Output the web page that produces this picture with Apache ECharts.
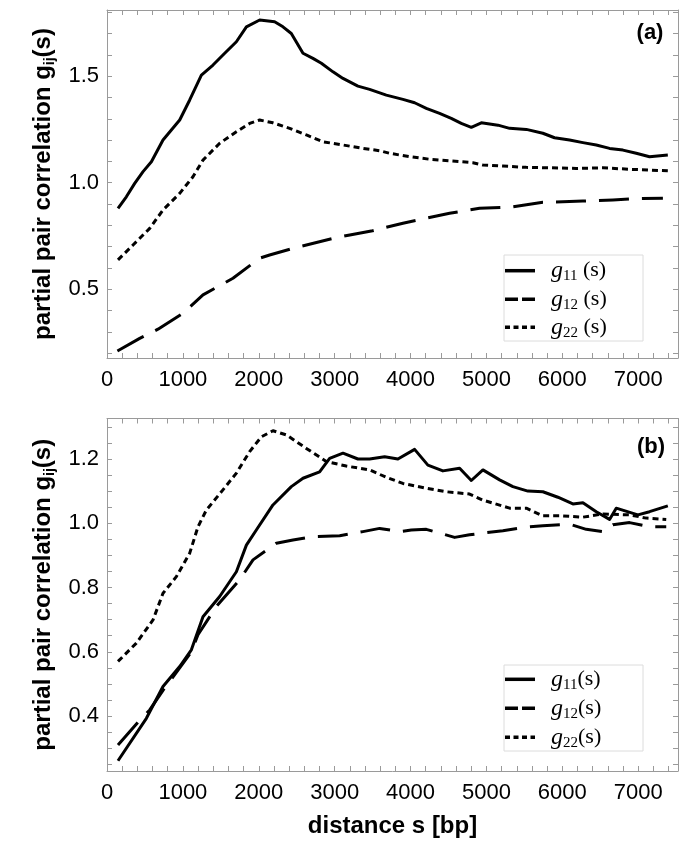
<!DOCTYPE html>
<html><head><meta charset="utf-8">
<script src="https://cdn.jsdelivr.net/npm/echarts@6/dist/echarts.min.js"></script>
<style>html,body{margin:0;padding:0;background:#fff}#c{width:685px;height:845px}</style>
</head><body><div id="c"></div>
<script>
// ---- data (distance s [bp], g) ----
const topG11 = [[145,0.88],[255,0.934],[365,0.997],[475,1.052],[585,1.098],[738,1.20],[848,1.247],[958,1.294],[1090,1.388],[1244,1.505],[1397,1.552],[1528,1.599],[1705,1.661],[1837,1.731],[2012,1.763],[2209,1.755],[2319,1.731],[2429,1.70],[2583,1.607],[2714,1.583],[2825,1.56],[2978,1.52],[3110,1.489],[3307,1.453],[3461,1.438],[3681,1.411],[3900,1.391],[4054,1.375],[4208,1.349],[4383,1.325],[4537,1.302],[4669,1.278],[4801,1.26],[4933,1.281],[5152,1.27],[5306,1.255],[5526,1.25],[5744,1.232],[5898,1.211],[6096,1.20],[6272,1.188],[6448,1.177],[6623,1.161],[6799,1.153],[6975,1.138],[7150,1.122],[7391,1.13]];
const topG12 = [[137,0.211],[431,0.27],[672,0.313],[1001,0.388],[1265,0.474],[1660,0.552],[2012,0.646],[2143,0.661],[2451,0.692],[2978,0.739],[3200,0.755],[3500,0.775],[3900,0.81],[4515,0.857],[4910,0.88],[5349,0.887],[5744,0.908],[6272,0.914],[6667,0.919],[6975,0.925],[7326,0.927]];
const topG22 = [[145,0.638],[343,0.708],[563,0.786],[738,0.872],[958,0.95],[1133,1.028],[1265,1.106],[1485,1.185],[1705,1.239],[1880,1.278],[2012,1.294],[2187,1.281],[2407,1.255],[2627,1.224],[2846,1.192],[3110,1.177],[3373,1.161],[3593,1.150],[3725,1.138],[3988,1.122],[4252,1.110],[4515,1.103],[4822,1.094],[4954,1.083],[5217,1.078],[5526,1.072],[5833,1.070],[6184,1.067],[6535,1.070],[6887,1.063],[7391,1.056]];
const botG11 = [[145,0.261],[519,0.393],[738,0.492],[958,0.554],[1112,0.606],[1265,0.709],[1485,0.772],[1705,0.849],[1837,0.932],[1968,0.979],[2187,1.057],[2429,1.114],[2583,1.140],[2802,1.160],[2934,1.202],[3110,1.218],[3307,1.20],[3461,1.20],[3659,1.207],[3834,1.20],[4054,1.230],[4229,1.181],[4427,1.163],[4647,1.171],[4801,1.133],[4954,1.166],[5174,1.135],[5349,1.114],[5547,1.10],[5744,1.098],[5942,1.081],[6140,1.06],[6272,1.064],[6448,1.036],[6623,1.012],[6711,1.047],[6996,1.026],[7150,1.036],[7391,1.054]];
const botG12 = [[145,0.310],[408,0.381],[563,0.419],[738,0.48],[958,0.55],[1112,0.60],[1199,0.653],[1441,0.741],[1573,0.777],[1748,0.824],[1924,0.886],[2232,0.938],[2451,0.948],[2714,0.958],[3066,0.961],[3373,0.974],[3593,0.984],[3856,0.974],[4010,0.979],[4208,0.981],[4581,0.956],[4778,0.964],[4998,0.971],[5217,0.977],[5526,0.988],[5744,0.992],[6096,0.997],[6316,0.981],[6535,0.974],[6667,0.995],[6887,1.002],[7150,0.989],[7370,0.989]];
const botG22 = [[145,0.570],[387,0.627],[606,0.699],[738,0.782],[914,0.834],[1090,0.907],[1199,0.989],[1309,1.041],[1528,1.104],[1705,1.156],[1880,1.223],[2034,1.269],[2187,1.288],[2363,1.275],[2627,1.233],[2890,1.192],[3154,1.178],[3461,1.166],[3681,1.143],[3900,1.124],[4208,1.109],[4472,1.098],[4778,1.091],[4954,1.072],[5306,1.047],[5526,1.047],[5744,1.023],[6008,1.023],[6272,1.019],[6535,1.029],[6887,1.026],[7107,1.016],[7370,1.012]];

// ---- ticks / labels ----
const xLabelValues = [0,1000,2000,3000,4000,5000,6000,7000];
const xTickValues = [0,200,400,600,800,1000,1200,1400,1600,1800,2000,2200,2400,2600,2800,3000,3200,3400,3600,3800,4000,4200,4400,4600,4800,5000,5200,5400,5600,5800,6000,6200,6400,6600,6800,7000,7200,7400];
const topYLabels = [0.5,1.0,1.5];
const topYTicks = [0.2,0.3,0.4,0.5,0.6,0.7,0.8,0.9,1.0,1.1,1.2,1.3,1.4,1.5,1.6,1.7,1.8];
const botYLabels = [0.4,0.6,0.8,1.0,1.2];
const botYTicks = [0.25,0.3,0.35,0.4,0.45,0.5,0.55,0.6,0.65,0.7,0.75,0.8,0.85,0.9,0.95,1.0,1.05,1.1,1.15,1.2,1.25,1.3];
const seriesNames = ['11','12','22'];
const panelLabels = ['(a)','(b)'];
const yName = 'partial pair correlation g';
const xName = 'distance s [bp]';

const FRAME = '#9a9a9a';
const SANS = 'Liberation Sans';
const SERIF = 'Liberation Serif';
const dashes = [null, [30,13], [6,4]];
const legendDashes = [null, [13,4], [5,3.5]];

const grids = [
  {left:107, top:10, width:571, height:348},
  {left:107, top:418.5, width:571, height:352.5}
];
const yRanges = [[0.178,1.81],[0.229,1.326]];

function xAxes(gi, showName){
  return [
    {gridIndex:gi, type:'value', min:0, max:7525, position:'bottom',
     axisLine:{show:true,onZero:false,lineStyle:{color:FRAME,width:1}},
     axisTick:{show:true,inside:true,length:5,customValues:xTickValues,lineStyle:{color:FRAME}},
     axisLabel:{show:true,customValues:xLabelValues,formatter:v=>String(Math.round(v)),color:'#000',fontSize:22,fontFamily:SANS,margin:11},
     splitLine:{show:false},
     name: showName ? xName : '', nameLocation:'middle', nameGap:43,
     nameTextStyle:{color:'#000',fontSize:24,fontWeight:'bold',fontFamily:SANS}},
    {gridIndex:gi, type:'value', min:0, max:7525, position:'top',
     axisLine:{show:true,onZero:false,lineStyle:{color:FRAME,width:1}},
     axisTick:{show:true,inside:true,length:5,customValues:xTickValues,lineStyle:{color:FRAME}},
     axisLabel:{show:false}, splitLine:{show:false}}
  ];
}
function yAxes(gi, labels, ticks){
  return [
    {gridIndex:gi, type:'value', min:yRanges[gi][0], max:yRanges[gi][1], position:'left',
     axisLine:{show:true,onZero:false,lineStyle:{color:FRAME,width:1}},
     axisTick:{show:true,inside:true,length:5,customValues:ticks,lineStyle:{color:FRAME}},
     axisLabel:{show:true,customValues:labels,formatter:v=>Number(v).toFixed(1),color:'#000',fontSize:22,fontFamily:SANS,margin:8},
     splitLine:{show:false},
     name:'{a|' + yName + '}{b|ij}{a|(s)}', nameLocation:'middle', nameGap:50,
     nameTextStyle:{color:'#000',rich:{
       a:{fontSize:24,fontWeight:'bold',fontFamily:SANS,lineHeight:27,color:'#000'},
       b:{fontSize:14,fontWeight:'bold',fontFamily:SANS,lineHeight:14,verticalAlign:'bottom',color:'#000'}}}},
    {gridIndex:gi, type:'value', min:yRanges[gi][0], max:yRanges[gi][1], position:'right',
     axisLine:{show:true,onZero:false,lineStyle:{color:FRAME,width:1}},
     axisTick:{show:true,inside:true,length:5,customValues:ticks,lineStyle:{color:FRAME}},
     axisLabel:{show:false}, splitLine:{show:false}}
  ];
}

const panelData = [[topG11, topG12, topG22],[botG11, botG12, botG22]];
const series = [];
panelData.forEach((arr, gi) => {
  arr.forEach((d, si) => {
    series.push({
      type:'line', name:'g'+seriesNames[si], xAxisIndex:gi*2, yAxisIndex:gi*2,
      data:d, showSymbol:false, symbol:'none', clip:true, silent:true,
      lineStyle:{color:'#000', width:3, type: dashes[si] ? dashes[si] : 'solid', cap:'butt', join:'round'},
      z:3
    });
  });
});

// legend and panel-label graphics
const legendBoxes = [{x:504,y:255,w:139,h:86,rows:[270.7,299.3,327.3],sep:' '},
                     {x:504,y:665,w:139,h:86,rows:[679.3,708.3,737.3],sep:''}];
const graphic = [];
legendBoxes.forEach((b) => {
  graphic.push({type:'rect', shape:{x:b.x,y:b.y,width:b.w,height:b.h},
    style:{fill:'#fff',stroke:'#dcdcdc',lineWidth:1}, z:10});
  seriesNames.forEach((nm, i) => {
    const y = b.rows[i];
    const st = {stroke:'#000', lineWidth:3.5};
    if (legendDashes[i]) st.lineDash = legendDashes[i];
    graphic.push({type:'line', shape:{x1:b.x+1,y1:y,x2:b.x+31,y2:y}, style:st, z:11});
    graphic.push({type:'text', x:551, y:y, z:11, style:{
      text:'{g|g}{s|' + nm + '}{t|' + b.sep + '(s)}', verticalAlign:'middle', align:'left',
      rich:{
        g:{fontSize:24,fontStyle:'italic',fontFamily:SERIF,lineHeight:26,fill:'#000'},
        s:{fontSize:15,fontFamily:SERIF,lineHeight:15,verticalAlign:'bottom',fill:'#000'},
        t:{fontSize:22,fontFamily:SERIF,lineHeight:26,fill:'#000'}
      }}});
  });
});
graphic.push({type:'text', x:650, y:32.5, z:11, style:{text:panelLabels[0], font:'bold 22px "Liberation Sans"', fill:'#000', align:'center', verticalAlign:'middle'}});
graphic.push({type:'text', x:651, y:446.5, z:11, style:{text:panelLabels[1], font:'bold 22px "Liberation Sans"', fill:'#000', align:'center', verticalAlign:'middle'}});

const chart = echarts.init(document.getElementById('c'), null, {renderer:'canvas'});
chart.setOption({
  animation:false,
  backgroundColor:'#fff',
  grid: grids,
  xAxis: [...xAxes(0,false), ...xAxes(1,true)],
  yAxis: [...yAxes(0, topYLabels, topYTicks), ...yAxes(1, botYLabels, botYTicks)],
  series: series,
  graphic: graphic
});
</script></body></html>
